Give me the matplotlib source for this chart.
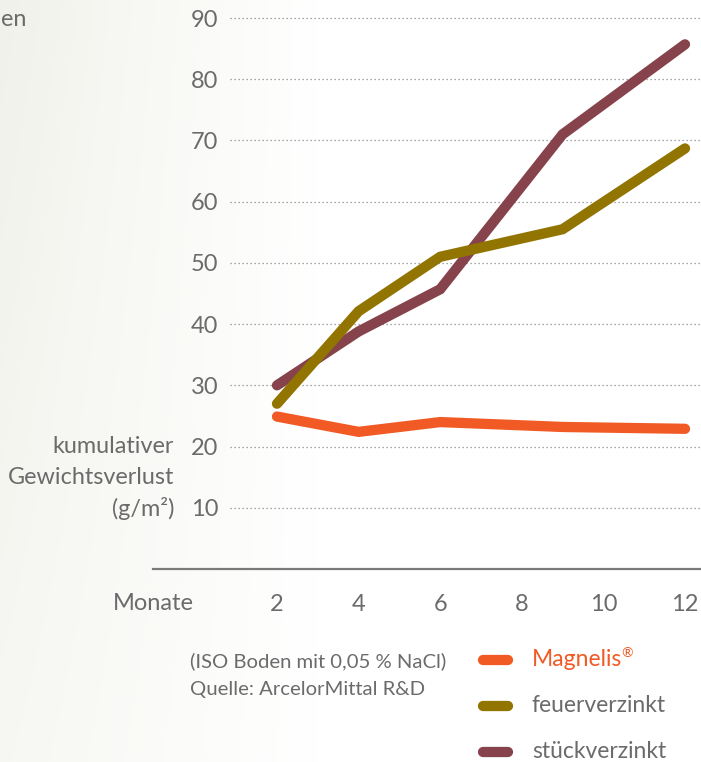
import numpy as np
import matplotlib.pyplot as plt
from matplotlib.lines import Line2D

# ------------------------------------------------------------
# Daten
# ------------------------------------------------------------
monate = [2, 4, 6, 9, 12]
magnelis = [24.9, 22.4, 24.0, 23.2, 22.9]
feuerverzinkt = [27.0, 42.1, 51.0, 55.5, 68.7]
stueckverzinkt = [30.0, 38.8, 45.7, 71.0, 85.7]

serien = ["Magnelis", "feuerverzinkt", "stückverzinkt"]
farben = ["#F15A24", "#927400", "#86434B"]

x_ticks = [2, 4, 6, 8, 10, 12]
y_ticks = [10, 20, 30, 40, 50, 60, 70, 80, 90]

grau = "#6b6b6b"
plt.rcParams["font.family"] = ["Lato", "DejaVu Sans"]

W, H = 701, 762
fig = plt.figure(figsize=(W / 100, H / 100), dpi=100)
fig.patch.set_facecolor("white")

# blasser Hintergrund (Foto angedeutet)
bg = fig.add_axes([0, 0, 1, 1], zorder=-5)
gx = np.linspace(0, 1, 300)
gy = np.linspace(0, 1, 300)
GX, GY = np.meshgrid(gx, gy)
staerke = np.clip(1 - GX / 0.45, 0, 1) * 0.06 * (0.6 + 0.4 * GY)
img = np.ones((300, 300, 3))
img[..., 0] -= staerke * 0.9
img[..., 1] -= staerke * 0.9
img[..., 2] -= staerke * 1.3
bg.imshow(img, extent=[0, 1, 0, 1], aspect="auto", origin="lower")
bg.set_axis_off()

# Achse: Pixel 153..701 horizontal, 0..569 vertikal
ax = fig.add_axes([153 / W, (H - 569) / H, 548 / W, 569 / H])
ax.set_facecolor("none")
px_pro_monat = 40.8
ax.set_xlim(2 + (153 - 277) / px_pro_monat, 2 + (701 - 277) / px_pro_monat)
ax.set_ylim(0, 569 / 6.122)

for s in ["top", "right", "left"]:
    ax.spines[s].set_visible(False)
ax.spines["bottom"].set_color("#7a7a7a")
ax.spines["bottom"].set_linewidth(1.6)

# gepunktete Gitterlinien
x_grid_start = 2 + (230 - 277) / px_pro_monat
ax.hlines(y_ticks, x_grid_start, ax.get_xlim()[1], colors="#8a8a8a",
          linestyles=(0, (1, 2.2)), linewidth=0.9, zorder=1)

# Linien
reihen = [stueckverzinkt, feuerverzinkt, magnelis]
for werte, farbe, z in zip(reihen, farben[::-1], [3, 4, 5]):
    ax.plot(monate, werte, color=farbe, linewidth=7.4,
            solid_capstyle="round", solid_joinstyle="miter", zorder=z)

ax.set_xticks(x_ticks)
ax.set_xticklabels([str(t) for t in x_ticks])
ax.set_yticks(y_ticks)
ax.set_yticklabels([str(t) for t in y_ticks])
ax.tick_params(axis="both", length=0, labelsize=17, labelcolor=grau)
ax.tick_params(axis="x", pad=18)
ax.tick_params(axis="y", pad=-47)

# Achsenbeschriftungen
fig.text(153 / W, 1 - 604 / H, "Monate", ha="center", va="center",
         fontsize=17, color=grau)
for txt, yp in [("kumulativer", 447), ("Gewichtsverlust", 478), ("(g/m²)", 508)]:
    fig.text(174 / W, 1 - yp / H, txt, ha="right", va="center",
             fontsize=16.8, color=grau)
fig.text(1 / W, 1 - 20 / H, "en", ha="left", va="center",
         fontsize=16.8, color=grau)

# Quelle
fig.text(190 / W, 1 - 661 / H, "(ISO Boden mit 0,05 % NaCl)", ha="left",
         va="center", fontsize=14.6, color=grau)
fig.text(190 / W, 1 - 689 / H, "Quelle: ArcelorMittal R&D", ha="left",
         va="center", fontsize=14.6, color=grau)

# Legende
fig.canvas.draw()
renderer = fig.canvas.get_renderer()
for name, farbe, yp in zip(serien, farben, [660, 706, 752]):
    fig.add_artist(Line2D([483 / W, 508 / W], [1 - yp / H, 1 - yp / H],
                          transform=fig.transFigure, color=farbe,
                          linewidth=7.4, solid_capstyle="round"))
    t = fig.text(532 / W, 1 - yp / H, name, ha="left", va="center",
                 fontsize=16.5, color=farbe if name == "Magnelis" else grau)
    if name == "Magnelis":
        bb = t.get_window_extent(renderer)
        fig.text((bb.x1 - 1) / W, 1 - (yp - 7) / H, "®", ha="left",
                 va="center", fontsize=10, color=farbe)

fig.savefig("out.png", dpi=100)
